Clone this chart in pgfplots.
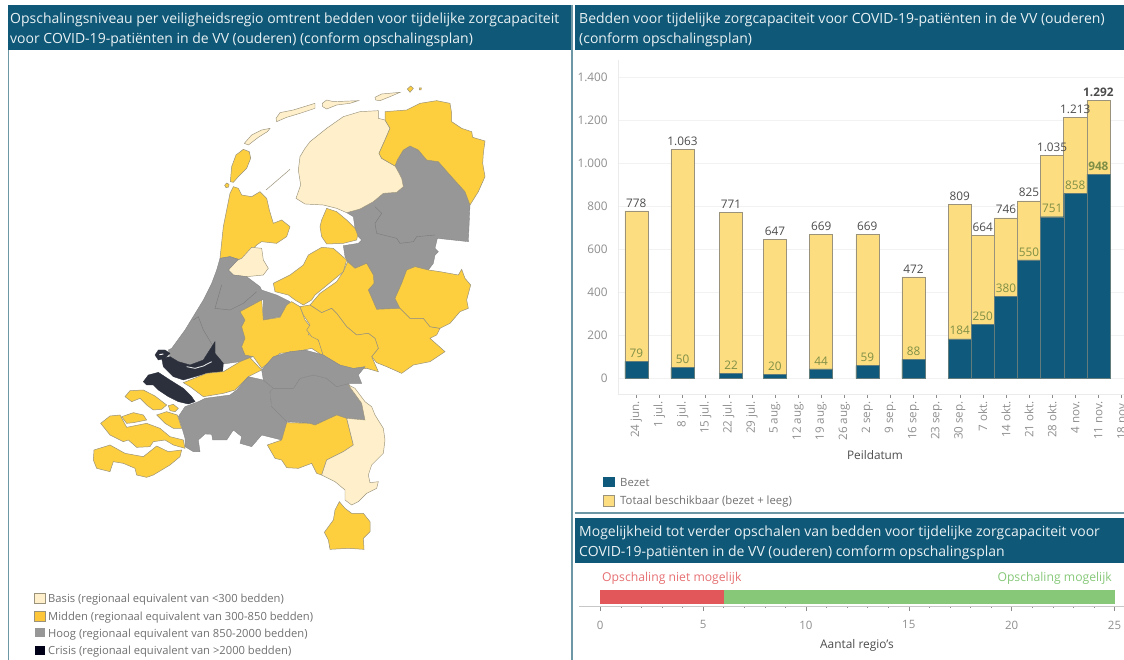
\documentclass[border=0pt]{standalone}
\usepackage{pgfplots}
\pgfplotsset{compat=1.18}
\usepackage{fontspec}
\setmainfont{Open Sans}
\definecolor{hdr}{HTML}{0F5877}
\definecolor{rule}{HTML}{6E97A6}
\definecolor{bdark}{HTML}{0F5A7C}
\definecolor{byel}{HTML}{FCDD80}
\definecolor{bedge}{HTML}{9A927A}
\definecolor{mpal}{HTML}{FFF0CB}
\definecolor{myel}{HTML}{FDCF3F}
\definecolor{mgry}{HTML}{979797}
\definecolor{mblk}{HTML}{2C303C}
\definecolor{txt}{HTML}{707070}
\definecolor{lab}{HTML}{8E8E8E}
\definecolor{gnum}{HTML}{7F8F45}
\definecolor{hwhite}{HTML}{E9F1F4}
\definecolor{rd}{HTML}{E25759}
\definecolor{gn}{HTML}{86C878}
\newcommand{\hd}{\fontsize{14}{16}\selectfont}
\begin{document}
\begin{tikzpicture}[x=1pt,y=1pt]
\useasboundingbox (0,0) rectangle (1124,660);
% panels
\fill[hdr] (8,655) rectangle (571,610);
\fill[hdr] (575,655) rectangle (1124,610);
\fill[hdr] (575,142.3) rectangle (1124,96.7);
\fill[rule] (8,0) rectangle (9,610);
\fill[rule] (570.5,0) rectangle (572.5,655);
\fill[rule] (575,146) rectangle (1124,148);
\node[anchor=base west,text=hwhite,font=\hd,inner sep=0] at (10,636) {Opschalingsniveau per veiligheidsregio omtrent bedden voor tijdelijke zorgcapaciteit};
\node[anchor=base west,text=hwhite,font=\hd,inner sep=0] at (10,616.5) {voor COVID-19-patiënten in de VV (ouderen) (conform opschalingsplan)};
\node[anchor=base west,text=hwhite,font=\hd,inner sep=0] at (579,636) {Bedden voor tijdelijke zorgcapaciteit voor COVID-19-patiënten in de VV (ouderen)};
\node[anchor=base west,text=hwhite,font=\hd,inner sep=0] at (579,616.5) {(conform opschalingsplan)};
\node[anchor=base west,text=hwhite,font=\hd,inner sep=0] at (579,123.5) {Mogelijkheid tot verder opschalen van bedden voor tijdelijke zorgcapaciteit voor};
\node[anchor=base west,text=hwhite,font=\hd,inner sep=0] at (579,103.5) {COVID-19-patiënten in de VV (ouderen) comform opschalingsplan};
% map
\begin{axis}[at={(60pt,90pt)},anchor=south west,width=450pt,height=510pt,scale only axis,
 xmin=0,xmax=1350,ymin=0,ymax=1530,y dir=reverse,hide axis,clip=false,
 gry/.style={fill=mgry,draw=mgry!88!black,line width=0.35pt},
 yel/.style={fill=myel,draw=bedge,line width=0.5pt},
 pal/.style={fill=mpal,draw=bedge,line width=0.45pt},
 blk/.style={fill=mblk,draw=mblk,line width=0.35pt}]
% islands
\addplot[yel] coordinates {(511,365)(515,320)(528,285)(550,268)(568,275)(572,295)(560,325)(535,350)(520,367)} --cycle;
\addplot[yel] coordinates {(494,376)(500,369)(507,373)(506,381)(498,383)} --cycle;
\addplot[pal] coordinates {(553,250)(575,225)(605,210)(630,205)(622,215)(595,232)(565,255)} --cycle;
\addplot[pal] coordinates {(648,175)(660,158)(700,150)(765,130)(765,145)(720,160)(680,172)(650,185)} --cycle;
\addplot[pal] coordinates {(787,130)(800,120)(820,125)(895,122)(870,130)(830,135)(800,147)(788,140)} --cycle;
\addplot[pal] coordinates {(945,112)(965,102)(1020,97)(990,110)(960,122)(947,120)} --cycle;
\addplot[yel] coordinates {(1042,87)(1052,78)(1060,85)(1050,97)} --cycle;
\addplot[yel] coordinates {(1078,84)(1084,84)(1083,90)(1078,90)} --cycle;
\addplot[bedge,line width=0.5pt] coordinates {(618,390)(690,328)};
% gray NE
\addplot[gry] coordinates {(860,458)(900,447)(940,425)(970,400)(1010,397)(1030,380)(1025,355)(1012,330)(1005,318)(1012,300)(1030,270)(1050,258)(1075,270)(1100,300)(1135,305)(1170,345)(1215,395)(1230,435)(1225,545)(1132,535)(1125,565)(1135,575)(1125,585)(1120,610)(1105,630)(1040,630)(1025,670)(1005,715)(1020,745)(950,748)(925,690)(942,670)(940,645)(920,610)(885,625)(863,605)(855,590)(850,557)(895,550)(905,540)(895,530)(885,505)(880,470)} --cycle;
\addplot[mgry!80!black,line width=0.4pt] coordinates {(945,440)(965,460)(945,490)(950,520)(1010,535)(1020,550)(1060,545)(1070,530)(1125,525)};
% Friesland
\addplot[pal] coordinates {(735,265)(720,290)(715,330)(722,375)(708,415)(735,432)(790,435)(830,445)(860,458)(900,447)(940,425)(970,400)(1010,397)(1030,380)(1025,355)(1012,330)(1005,318)(965,295)(957,280)(975,240)(990,205)(975,180)(955,175)(955,152)(900,155)(850,170)(800,205)(750,245)} --cycle;
% Groningen
\addplot[yel] coordinates {(975,155)(1040,150)(1080,130)(1130,122)(1170,130)(1175,160)(1175,185)(1205,205)(1235,215)(1238,232)(1275,243)(1270,280)(1268,310)(1275,350)(1255,395)(1230,435)(1215,395)(1170,345)(1135,305)(1100,300)(1075,270)(1050,258)(1030,270)(1012,300)(1005,318)(965,295)(957,280)(975,240)(990,205)(975,180)} --cycle;
% Flevoland
\addplot[yel] coordinates {(785,480)(800,445)(830,455)(860,480)(885,505)(893,525)(890,540)(850,550)(800,552)(785,530)(780,500)} --cycle;
\addplot[yel] coordinates {(640,670)(690,645)(730,615)(745,585)(785,562)(820,565)(860,600)(850,635)(820,660)(765,705)(755,720)(730,735)(705,720)(685,705)(645,695)} --cycle;
% N-Holland
\addplot[yel] coordinates {(480,595)(490,500)(510,400)(520,380)(535,385)(545,405)(575,410)(600,395)(620,415)(628,450)(640,490)(665,480)(690,500)(680,530)(650,550)(605,545)(590,555)(570,575)(550,595)(535,598)(510,590)} --cycle;
\addplot[pal] coordinates {(505,630)(530,602)(545,595)(575,562)(605,565)(610,600)(625,625)(610,645)(560,650)(520,645)} --cycle;
% West gray
\addplot[gry] coordinates {(480,595)(510,590)(535,598)(505,630)(520,645)(560,650)(600,680)(605,690)(650,705)(690,725)(660,770)(610,780)(610,720)(605,720)(540,755)(555,780)(545,800)(555,835)(545,860)(555,885)(580,890)(570,893)(540,905)(490,912)(465,880)(465,845)(430,900)(390,915)(355,905)(330,890)(325,870)(335,865)(375,810)(430,720)(455,670)(470,630)} --cycle;
\addplot[mgry!80!black,line width=0.4pt] coordinates {(485,675)(465,745)(510,750)(550,730)(590,695)};
\addplot[mgry!80!black,line width=0.4pt] coordinates {(400,780)(415,770)(430,810)(460,860)};
% Utrecht
\addplot[yel] coordinates {(540,755)(605,720)(610,780)(660,772)(680,735)(695,725)(720,740)(735,780)(755,805)(745,825)(765,825)(780,850)(790,888)(755,865)(710,875)(660,880)(630,905)(605,925)(580,890)(555,885)(545,860)(555,835)(545,800)(555,780)} --cycle;
% East yellow
\addplot[yel] coordinates {(750,735)(780,700)(830,665)(850,635)(863,605)(885,625)(920,610)(940,645)(942,670)(925,690)(950,748)(1020,745)(1050,775)(1090,775)(1110,800)(1140,805)(1130,825)(1110,835)(1155,875)(1110,905)(1060,915)(1025,940)(980,920)(950,908)(935,890)(955,865)(945,835)(925,820)(890,825)(860,800)(830,760)(815,745)(785,758)} --cycle;
\addplot[yel] coordinates {(720,740)(750,735)(785,758)(815,745)(830,760)(860,800)(890,825)(925,820)(945,835)(955,865)(935,890)(955,935)(920,925)(890,930)(855,920)(820,915)(790,888)(775,840)(755,830)(740,810)(750,795)(730,765)} --cycle;
\addplot[yel] coordinates {(1005,715)(1025,670)(1040,630)(1065,620)(1105,630)(1140,635)(1195,645)(1205,628)(1215,655)(1232,675)(1220,720)(1225,745)(1200,755)(1170,790)(1140,805)(1110,800)(1090,775)(1050,775)(1020,745)} --cycle;
% Rijnmond
\addplot[blk] coordinates {(305,895)(330,890)(355,905)(390,915)(430,900)(465,845)(465,880)(490,910)(488,935)(440,940)(370,960)(340,950)(310,920)} --cycle;
\addplot[blk] coordinates {(285,885)(295,870)(315,870)(330,880)(315,895)(295,900)} --cycle;
\addplot[white,line width=1pt] coordinates {(298,884)(310,882)};
\addplot[white!85!mblk,line width=0.9pt] coordinates {(380,920)(405,925)(430,918)(455,905)};
\addplot[yel] coordinates {(370,968)(440,940)(490,935)(540,905)(570,893)(605,930)(565,950)(525,990)(490,1000)(430,1010)(390,980)} --cycle;
\addplot[blk] coordinates {(250,965)(265,945)(295,937)(330,960)(370,985)(395,1010)(405,1025)(385,1032)(355,1025)(325,1010)(295,990)(280,975)(260,975)} --cycle;
% Brabant
\addplot[gry] coordinates {(355,1070)(375,1040)(415,1025)(435,1015)(510,1005)(530,990)(565,950)(610,960)(640,982)(630,995)(635,1040)(680,1080)(680,1090)(665,1140)(625,1130)(605,1125)(575,1160)(540,1150)(545,1130)(520,1110)(500,1140)(458,1140)(455,1123)(435,1122)(415,1140)(420,1175)(400,1175)(375,1160)(375,1135)(365,1100)} --cycle;
\addplot[gry] coordinates {(630,995)(640,985)(700,985)(720,955)(760,945)(800,955)(830,980)(865,970)(885,1000)(905,1030)(915,1080)(860,1075)(830,1065)(765,1095)(750,1090)(680,1085)(635,1040)} --cycle;
\addplot[gry] coordinates {(605,930)(640,890)(690,875)(735,870)(790,885)(840,915)(880,925)(915,920)(895,945)(905,970)(870,970)(830,980)(800,955)(760,945)(720,955)(700,985)(640,985)(610,960)} --cycle;
\addplot[yel] coordinates {(622,1155)(665,1140)(680,1088)(750,1090)(765,1095)(830,1065)(860,1075)(880,1155)(850,1175)(800,1200)(785,1245)(770,1240)(755,1210)(715,1225)(680,1223)(665,1200)(645,1195)} --cycle;
% Limburg
\addplot[pal] coordinates {(865,975)(885,985)(915,1025)(935,1040)(945,1065)(970,1105)(975,1140)(970,1180)(935,1215)(925,1245)(930,1268)(955,1265)(950,1285)(920,1300)(895,1325)(875,1335)(855,1320)(855,1290)(825,1265)(785,1245)(800,1200)(850,1175)(880,1155)(860,1075)(915,1080)(905,1030)} --cycle;
\addplot[yel] coordinates {(838,1325)(855,1345)(875,1360)(910,1360)(930,1385)(930,1415)(910,1435)(912,1468)(865,1465)(810,1468)(805,1440)(793,1417)(820,1380)(825,1350)} --cycle;
% Zeeland
\addplot[yel] coordinates {(122,1090)(150,1068)(180,1065)(200,1102)(260,1090)(300,1105)(330,1130)(370,1140)(375,1165)(340,1155)(315,1140)(280,1145)(270,1160)(230,1162)(205,1140)(190,1145)(150,1125)} --cycle;
\addplot[yel] coordinates {(185,1070)(220,1058)(250,1065)(260,1080)(220,1088)(200,1090)} --cycle;
\addplot[yel] coordinates {(195,1010)(210,992)(250,990)(285,1008)(320,1035)(305,1048)(280,1050)(260,1035)(240,1015)(215,1025)} --cycle;
\addplot[yel] coordinates {(325,1037)(340,1033)(355,1045)(345,1055)(330,1052)} --cycle;
\addplot[yel] coordinates {(290,1065)(320,1055)(352,1065)(365,1105)(340,1105)(315,1090)} --cycle;
\addplot[yel] coordinates {(102,1170)(150,1155)(195,1180)(250,1190)(290,1158)(325,1175)(365,1170)(360,1190)(330,1215)(280,1245)(260,1252)(230,1245)(225,1225)(190,1210)(160,1205)(150,1235)(110,1225)(100,1200)} --cycle;
\end{axis}
% bar chart
\begin{axis}[at={(617.7pt,265.7pt)},anchor=south west,width=506.3pt,height=334.3pt,scale only axis,
 xmin=-0.805,xmax=21.11,ymin=-74,ymax=1479,
 axis x line*=bottom,axis y line*=left,axis line style={draw=black!8,-},
 ymajorgrids,major grid style={draw=black!5,line width=0.4pt},
 ytick={0,200,...,1400},
 yticklabels={0,200,400,600,800,{1.000},{1.200},{1.400}},
 ytick style={draw=none},
 xtick={0,...,21},
 xticklabels={24 jun.,1 jul.,8 jul.,15 jul.,22 jul.,29 jul.,5 aug.,12 aug.,19 aug.,26 aug.,2 sep.,9 sep.,16 sep.,23 sep.,30 sep.,7 okt.,14 okt.,21 okt.,28 okt.,4 nov.,11 nov.,18 nov.},
 x tick style={draw=black!45,line width=0.4pt},major tick length=3.5pt,tick align=outside,
 xticklabel style={rotate=90,anchor=east,text=lab,font=\fontsize{11.6}{13}\selectfont},
 yticklabel style={text=lab,font=\fontsize{11.8}{13}\selectfont,xshift=-3pt},
 tick label style={/pgf/number format/assume math mode=true},
 ybar,bar shift=0pt,bar width=1,
 clip=false,
 point meta=explicit symbolic,
 nodes near coords,
 every node near coord/.style={font=\fontsize{11.8}{13}\selectfont,inner sep=3.5pt}]
\addplot[fill=byel,draw=bedge,line width=0.5pt,nodes near coords style={text=black!70}] coordinates {
(0,778)[778] (2,1063)[1.063] (4.1,771)[771] (6,647)[647] (8,669)[669] (10,669)[669] (12,472)[472]
(14,809)[809] (15,664)[664] (16,746)[746] (17,825)[825] (18,1035)[1.035] (19,1213)[1.213] (20,1292)[\textbf{1.292}]};
\addplot[fill=bdark,draw=bedge!60!bdark,line width=0.4pt,nodes near coords style={text=gnum}] coordinates {
(0,79)[79] (2,50)[50] (4.1,22)[22] (6,20)[20] (8,44)[44] (10,59)[59] (12,88)[88]
(14,184)[184] (15,250)[250] (16,380)[380] (17,550)[550] (18,751)[751] (19,858)[858] (20,948)[\textbf{948}]};
\end{axis}
\node[text=black!70,font=\fontsize{11.8}{13}\selectfont] at (875,204.7) {Peildatum};
\fill[bdark] (603,183.3) rectangle (614.6,172.7);
\filldraw[fill=byel,draw=bedge,line width=0.4pt] (603,165) rectangle (614.6,154);
\node[anchor=west,text=txt,inner sep=0,font=\fontsize{11.35}{13}\selectfont] at (620,177.2) {Bezet};
\node[anchor=west,text=txt,inner sep=0,font=\fontsize{11.35}{13}\selectfont] at (620,158.7) {Totaal beschikbaar (bezet + leeg)};
% lower bar
\draw[black!22,line width=0.5pt] (579,53.3) -- (1124,53.3);
\begin{axis}[at={(600.2pt,53.3pt)},anchor=south west,width=514.3pt,height=22pt,scale only axis,
 xmin=0,xmax=25,ymin=0,ymax=22,
 axis x line*=bottom,axis y line=none,axis line style={draw=none},
 xtick={0,5,...,25},minor x tick num=4,
 x tick style={draw=black!45,line width=0.4pt},major tick length=4.5pt,minor tick length=1.5pt,tick align=outside,
 xticklabel style={text=lab,font=\fontsize{11.5}{13}\selectfont,yshift=-6pt},
 tick label style={/pgf/number format/assume math mode=true},
 xbar stacked,bar width=14pt,clip=false]
\addplot[fill=rd,draw=none] coordinates {(6,10)};
\addplot[fill=gn,draw=none] coordinates {(19,10)};
\end{axis}
\node[anchor=west,text=rd!85!white,inner sep=0,font=\fontsize{12.2}{14}\selectfont] at (602,82) {Opschaling niet mogelijk};
\node[anchor=east,text=gn,inner sep=0,font=\fontsize{12.2}{14}\selectfont] at (1112,82) {Opschaling mogelijk};
\node[text=black!70,font=\fontsize{11.9}{13}\selectfont] at (857,14.5) {Aantal regio's};
% map legend
\filldraw[fill=mpal,draw=bedge,line width=0.4pt] (34.5,67) rectangle (45,57);
\filldraw[fill=myel!90!orange,draw=bedge,line width=0.4pt] (34.5,49) rectangle (45,39);
\fill[mgry] (34.5,32) rectangle (45,23);
\fill[black!90!blue] (34.5,14) rectangle (45,5);
\foreach \yy/\tt in {60.5/{Basis (regionaal equivalent van <300 bedden)},42.5/{Midden (regionaal equivalent van 300-850 bedden)},25.5/{Hoog (regionaal equivalent van 850-2000 bedden)},8/{Crisis (regionaal equivalent van >2000 bedden)}}
 \node[anchor=west,text=txt,inner sep=0,font=\fontsize{11.2}{13}\selectfont] at (48,\yy) {\tt};
\end{tikzpicture}
\end{document}
